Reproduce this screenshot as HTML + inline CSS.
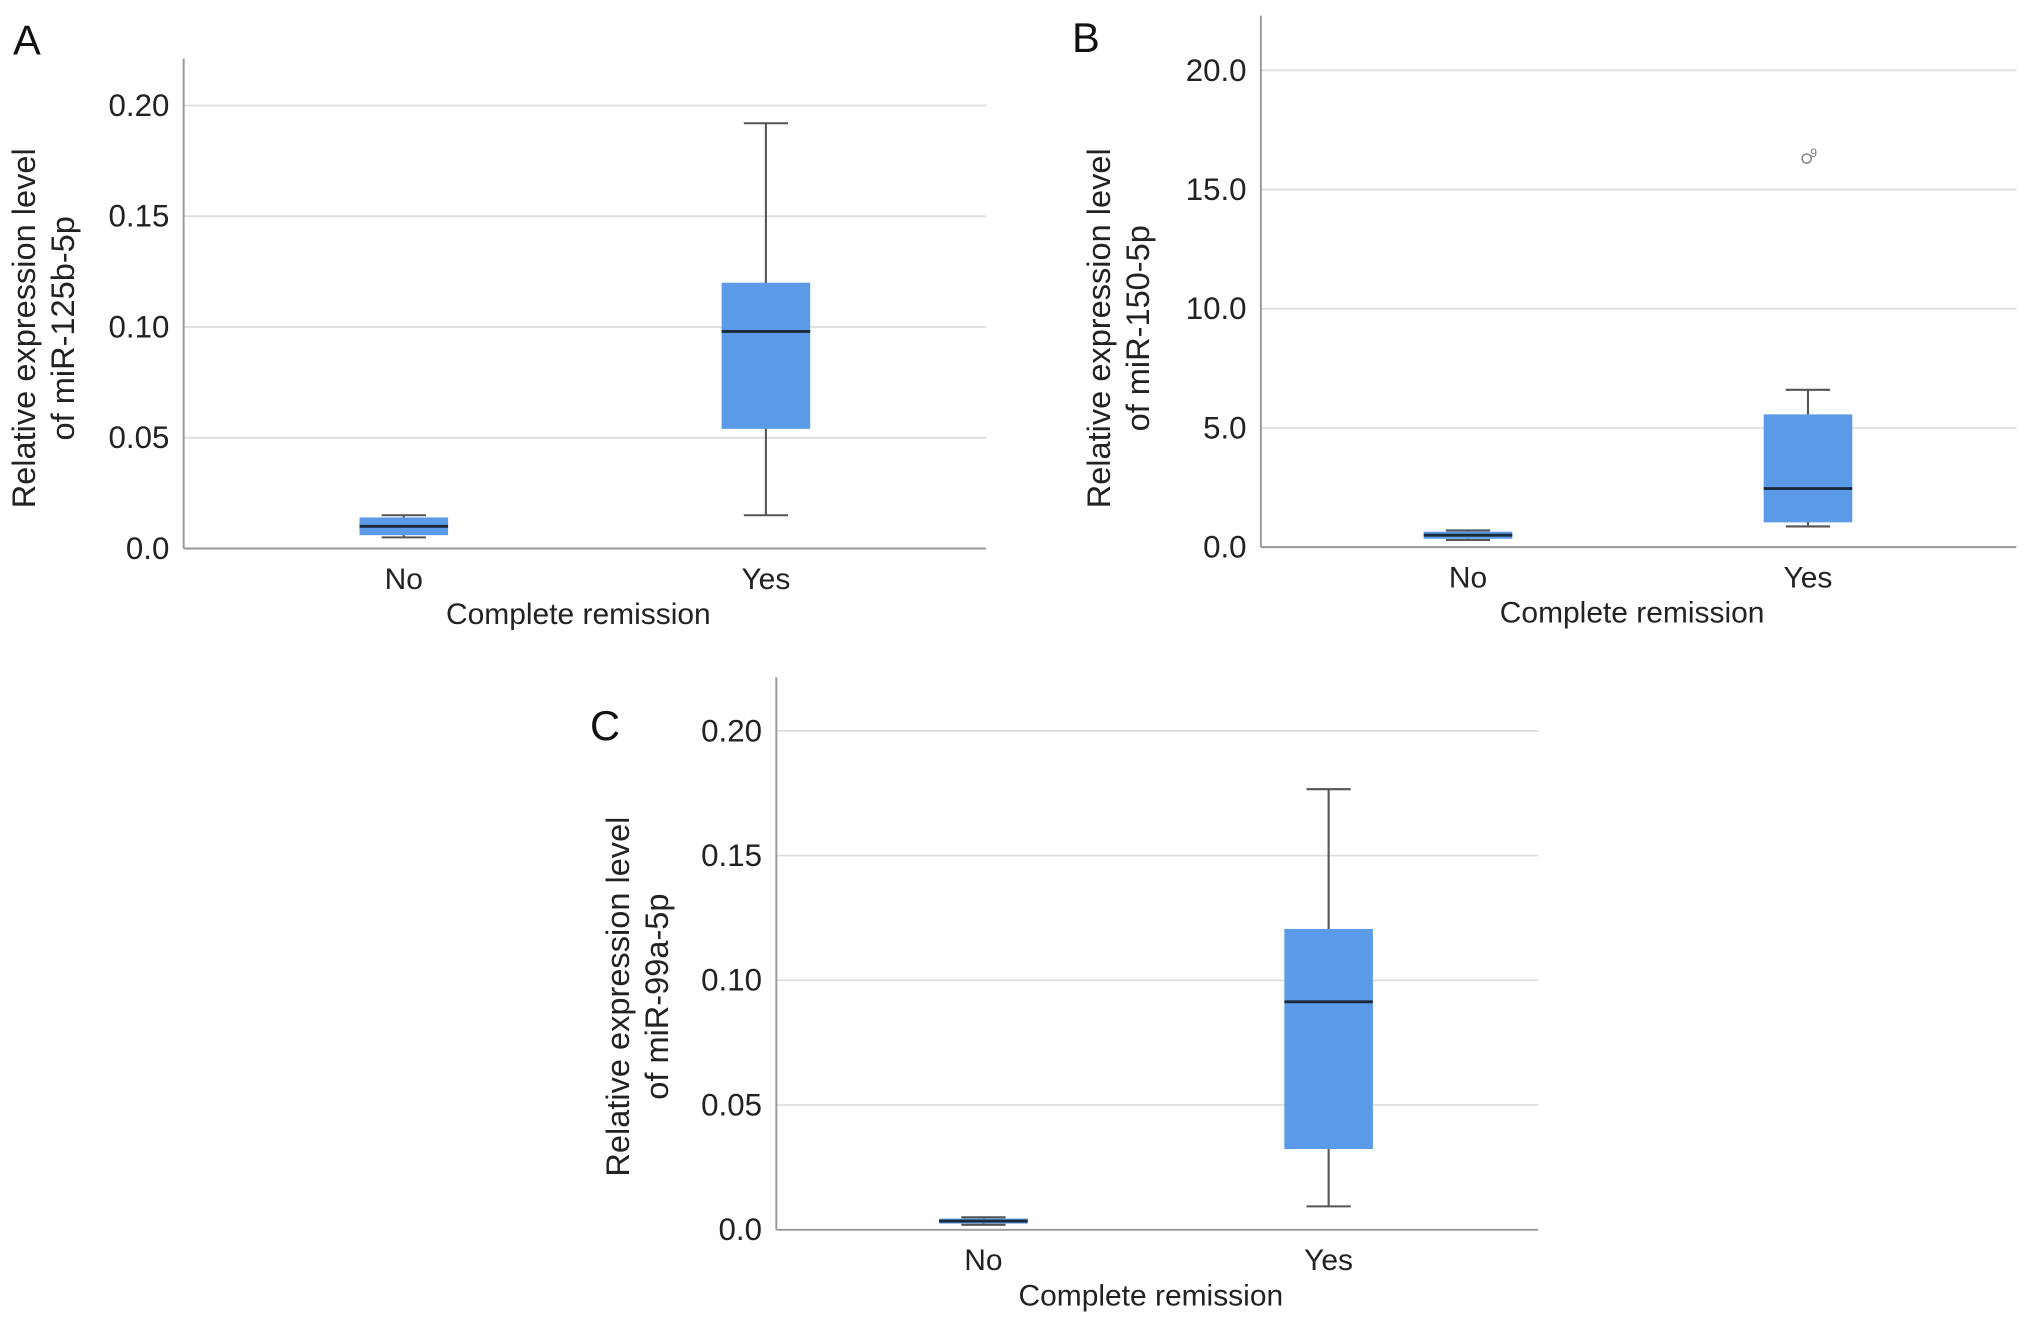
<!DOCTYPE html>
<html><head><meta charset="utf-8"><style>
html,body{margin:0;padding:0;background:#fff;}
svg{display:block;font-family:"Liberation Sans",sans-serif;}
</style></head><body>
<svg id="fig" width="2032" height="1321" viewBox="0 0 1560 1014" preserveAspectRatio="none" xmlns="http://www.w3.org/2000/svg"></svg>
<script>
const categories = ["No", "Yes"];
// [whiskerLow, q1, median, q3, whiskerHigh]
const statsA = [[0.005, 0.006, 0.010, 0.014, 0.015], [0.015, 0.054, 0.098, 0.120, 0.192]];
const statsB = [[0.3, 0.35, 0.5, 0.65, 0.7], [0.87, 1.04, 2.46, 5.57, 6.6]];
const statsC = [[0.002, 0.0025, 0.0035, 0.0045, 0.005], [0.0094, 0.0324, 0.0914, 0.1206, 0.1766]];
const outliersB = [[1, 16.3, "9"]];
const ticksA = [0, 0.05, 0.10, 0.15, 0.20];
const tickLabelsA = ["0.0", "0.05", "0.10", "0.15", "0.20"];
const ticksB = [0, 5, 10, 15, 20];
const tickLabelsB = ["0.0", "5.0", "10.0", "15.0", "20.0"];
const ticksC = [0, 0.05, 0.10, 0.15, 0.20];
const tickLabelsC = ["0.0", "0.05", "0.10", "0.15", "0.20"];

const NS = "http://www.w3.org/2000/svg";
const svg = document.getElementById("fig");
function mk(tag, attrs, parent, text) {
  const e = document.createElementNS(NS, tag);
  for (const k in attrs) e.setAttribute(k, attrs[k]);
  if (text !== undefined) e.textContent = text;
  parent.appendChild(e);
  return e;
}
function panel(cfg) {
  const g = mk("g", {}, svg);
  
  
  const y = v => cfg.y0 - (v - cfg.vmin) * cfg.pxPer;
  const x = i => cfg.cx[i];
  cfg.ticks.forEach((t, i) => {
    if (t !== 0) {
      const gl = mk("line", {x1: cfg.xl, x2: cfg.xr, y1: y(t), y2: y(t), stroke: "#dcdcdc", "stroke-width": 1.3}, g);
      
      
    }
    const tl = mk("text", {x: cfg.xl - 11, y: y(t) + 8, "text-anchor": "end", "font-size": 24, fill: "#222"}, g, cfg.tickLabels[i]);
    
    
  });
  const ya = mk("line", {x1: cfg.xl, x2: cfg.xl, y1: cfg.ytop, y2: cfg.y0, stroke: "#999", "stroke-width": 1.5}, g);
  
  
  const xa = mk("line", {x1: cfg.xl, x2: cfg.xr, y1: cfg.y0, y2: cfg.y0, stroke: "#999", "stroke-width": 1.5}, g);
  
  
  cfg.stats.forEach((s, i) => {
    const bw = 68, cx = x(i);
    const w = mk("line", {x1: cx, x2: cx, y1: y(s[0]), y2: y(s[4]), stroke: "#555", "stroke-width": 1.6}, g);
    
    
    [s[0], s[4]].forEach(v => {
      const c = mk("line", {x1: cx - 17, x2: cx + 17, y1: y(v), y2: y(v), stroke: "#555", "stroke-width": 1.6}, g);
      
      
    });
    const b = mk("rect", {x: cx - bw / 2, y: y(s[3]), width: bw, height: Math.max(2, y(s[1]) - y(s[3])), fill: "#5b9ae7"}, g);
    
    
    const m = mk("line", {x1: cx - bw / 2, x2: cx + bw / 2, y1: y(s[2]), y2: y(s[2]), stroke: "#1a2a3a", "stroke-width": 2.2}, g);
    
    
    const xl = mk("text", {x: cx, y: cfg.y0 + 31, "text-anchor": "middle", "font-size": 23, fill: "#222"}, g, categories[i]);
    
    
  });
  (cfg.outliers || []).forEach(o => {
    const oc = mk("circle", {cx: x(o[0]) - 1, cy: y(o[1]), r: 3.5, fill: "none", stroke: "#888", "stroke-width": 1.2}, g);
    
    
    const ol = mk("text", {x: x(o[0]) + 2, y: y(o[1]) - 1, "font-size": 9, fill: "#777"}, g, o[2]);
    
    
  });
  const xt = mk("text", {x: (cfg.xl + cfg.xr) / 2 - 5, y: cfg.y0 + 58, "text-anchor": "middle", "font-size": 23, fill: "#222"}, g, "Complete remission");
  
  
  const yt = mk("text", {transform: `translate(${cfg.ytx},${cfg.yty}) rotate(-90)`, "text-anchor": "middle", "font-size": 25, fill: "#222"}, g);
  
  
  mk("tspan", {x: 0, dy: 0}, yt, "Relative expression level");
  mk("tspan", {x: 0, dy: 30}, yt, cfg.ylab);
  const L = mk("text", {x: cfg.lx, y: cfg.ly, "font-size": 32, fill: "#111"}, g, cfg.letter);
  
  
}
panel({letter: "A", lx: 10, ly: 42, xl: 141, xr: 757, ytop: 45, y0: 421, vmin: 0, pxPer: 1700,
  cx: [310, 588], stats: statsA, ticks: ticksA, tickLabels: tickLabelsA,
  ytx: 27, yty: 252, ylab: "of miR-125b-5p"});
panel({letter: "B", lx: 823, ly: 40, xl: 968, xr: 1548, ytop: 12, y0: 420, vmin: 0, pxPer: 18.3,
  cx: [1127, 1388], stats: statsB, ticks: ticksB, tickLabels: tickLabelsB, outliers: outliersB,
  ytx: 852, yty: 252, ylab: "of miR-150-5p"});
panel({letter: "C", lx: 453, ly: 568, xl: 596, xr: 1181, ytop: 520, y0: 944, vmin: 0, pxPer: 1915,
  cx: [755, 1020], stats: statsC, ticks: ticksC, tickLabels: tickLabelsC,
  ytx: 483, yty: 765, ylab: "of miR-99a-5p"});
</script>
</body></html>
